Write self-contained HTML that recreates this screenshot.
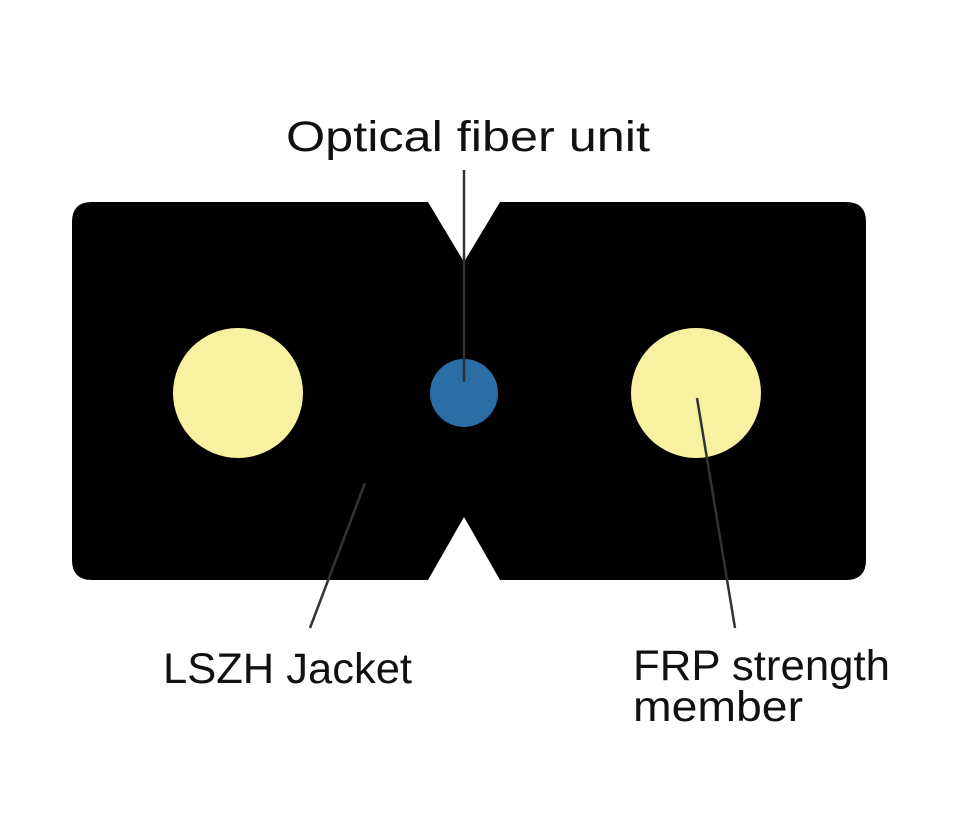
<!DOCTYPE html>
<html><head><style>body{margin:0;background:#fff}</style></head><body>
<svg width="962" height="808" viewBox="0 0 962 808" xmlns="http://www.w3.org/2000/svg">
<rect width="962" height="808" fill="#fff"/>
<path d="M92 202 H428 L464 262 L500 202 H846 Q866 202 866 222 V560 Q866 580 846 580 H500 L464 517 L428 580 H92 Q72 580 72 560 V222 Q72 202 92 202 Z" fill="#000"/>
<circle cx="238" cy="393" r="65" fill="#f8f1a2"/>
<circle cx="696" cy="393" r="65" fill="#f8f1a2"/>
<circle cx="464" cy="393" r="34" fill="#2b6ea6"/>
<g stroke="#333" stroke-width="2.5" fill="none">
<line x1="464" y1="170" x2="464" y2="382"/>
<line x1="365" y1="483" x2="310" y2="628"/>
<line x1="697" y1="398" x2="735" y2="628"/>
</g>
<g font-family="Liberation Sans, sans-serif" font-size="43" fill="#111">
<text x="286" y="151" textLength="364" lengthAdjust="spacingAndGlyphs">Optical fiber unit</text>
<text x="163" y="683" textLength="249" lengthAdjust="spacingAndGlyphs">LSZH Jacket</text>
<text x="633" y="680" textLength="257" lengthAdjust="spacingAndGlyphs">FRP strength</text>
<text x="633" y="721" textLength="170" lengthAdjust="spacingAndGlyphs">member</text>
</g>
</svg>
</body></html>
